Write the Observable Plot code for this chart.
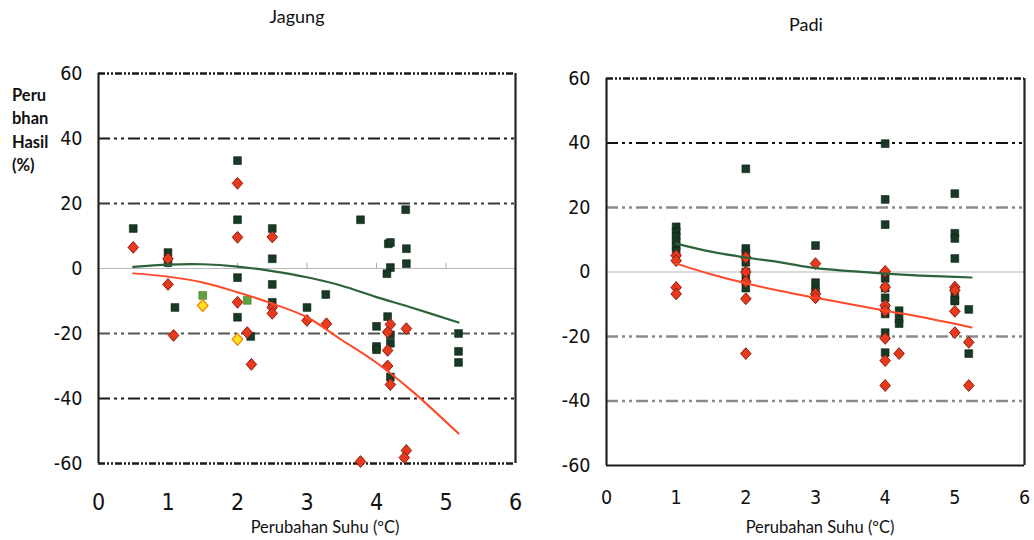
<!DOCTYPE html>
<html>
<head>
<meta charset="utf-8">
<script src="https://cdn.jsdelivr.net/npm/d3@7"></script>
<script src="https://cdn.jsdelivr.net/npm/@observablehq/plot@0.6"></script>
<style>
  html, body { margin: 0; padding: 0; background: #ffffff; }
  #wrap { position: relative; width: 1034px; height: 540px; overflow: hidden; background: #fff; }
  .panel { position: absolute; top: 0; }
  .txt { position: absolute; font-family: Lato, "Open Sans", sans-serif; color: #111; white-space: nowrap; line-height: 1; }
  .title { font-size: 18px; transform: translateX(-50%); }
  .xtitle { font-size: 16.5px; transform: translateX(-50%); }
  .ylab { font-size: 16.5px; font-weight: bold; line-height: 23.3px; left: 12px; top: 84px; }
  .panel svg text { font-family: "Liberation Sans Narrow", "Arial Narrow", "DejaVu Sans Condensed", sans-serif; }
</style>
</head>
<body>
<div id="wrap">
  <div id="left" class="panel" style="left:0px"></div>
  <div id="right" class="panel" style="left:530px"></div>
  <div class="txt title" style="left:297px; top:7px">Jagung</div>
  <div class="txt title" style="left:806px; top:15px">Padi</div>
  <div class="txt ylab">Peru<br>bhan<br>Hasil<br>(%)</div>
  <div class="txt xtitle" style="left:325px; top:519px">Perubahan Suhu (ºC)</div>
  <div class="txt xtitle" style="left:820px; top:519px">Perubahan Suhu (ºC)</div>
</div>
<script>
// ---------- tick values ----------
const xTicks = [0, 1, 2, 3, 4, 5, 6];
const yTicks = [-60, -40, -20, 0, 20, 40, 60];

// ---------- Jagung (maize) ----------
const jagungSquareX = [0.5, 1, 1, 1.1, 2, 2, 2, 2, 2.19, 2.5, 2.5, 2.5, 2.5, 3, 3.27, 3.77, 4, 4, 4, 4.17, 4.2, 4.2, 4.15, 4.16, 4.2, 4.2, 4.2, 4.42, 4.43, 4.43, 5.18, 5.18, 5.18];
const jagungSquareY = [12.3, 4.9, 1.8, -12, 33.2, 15, -2.8, -15, -20.9, 12.3, 3, -4.9, -10.4, -12, -8, 15, -17.8, -24, -25, 7.6, 8, 0.3, -1.6, -14.8, -20.4, -23, -33.4, 18.1, 6.1, 1.5, -20, -25.5, -28.9];
const jagungDiamondX = [0.5, 1, 1, 1.08, 2, 2, 2, 2.14, 2.2, 2.5, 2.5, 2.5, 3, 3.28, 3.77, 4.2, 4.16, 4.16, 4.16, 4.2, 4.43, 4.43, 4.4];
const jagungDiamondY = [6.5, 3, -4.9, -20.6, 26.2, 9.6, -10.4, -19.7, -29.5, 9.7, -12, -13.8, -16, -17, -59.4, -17.2, -19.6, -25.2, -30, -35.7, -18.5, -56, -58.2];
const jagungLightX = [1.5, 2.14];
const jagungLightY = [-8.3, -9.8];
const jagungYellowX = [1.5, 2];
const jagungYellowY = [-11.4, -21.8];
const jagungTrendX = [0.5, 1, 1.5, 2, 2.5, 3, 3.5, 4, 4.5, 5.18];
const jagungGreenTrendY = [0.5, 1.2, 1.3, 0.6, -0.8, -2.7, -5.3, -8.8, -12, -16.6];
const jagungRedTrendY = [-1.5, -2.5, -4.3, -7.3, -10.8, -15, -22, -29, -37.5, -50.8];

// ---------- Padi (rice) ----------
const padiSquareX = [1, 1, 1, 1, 1, 1, 2, 2, 2, 2, 2, 2, 2, 3, 3, 3, 4, 4, 4, 4, 4, 4, 4, 4, 4, 4, 4.2, 4.2, 4.2, 5, 5, 5, 5, 5, 5, 5, 5.2, 5.2];
const padiSquareY = [14, 12.5, 11, 9.5, 8, 6.5, 32, 7.3, 5.8, 3, 0, -2.5, -5, 8.2, -3.3, -5.7, 39.8, 22.5, 14.7, -2, -5, -8, -11, -13, -18.8, -25, -12, -14.5, -16, 24.3, 12, 10.4, 4.2, -7, -9, -8.8, -11.6, -25.3];
const padiDiamondX = [1, 1, 1, 1, 2, 2, 2, 2, 2, 3, 3, 3, 4, 4, 4, 4, 4, 4, 4, 4.2, 5, 5, 5, 5, 5.2, 5.2];
const padiDiamondY = [5.1, 3.5, -4.8, -6.8, 4.5, 0, -3, -8.3, -25.3, 2.6, -6.8, -8, 0.2, -4.7, -10.4, -12, -20.6, -27.5, -35.2, -25.3, -4.7, -5.7, -12.2, -18.8, -21.8, -35.2];
const padiTrendX = [1, 1.5, 2, 2.5, 3, 3.5, 4, 4.5, 5.24];
const padiGreenTrendY = [8.8, 6.3, 4.5, 3, 1.2, 0.3, -0.5, -1.1, -1.7];
const padiRedTrendY = [2.6, -0.7, -3.5, -5.9, -8, -10, -12, -13.9, -17.2];

// ---------- helpers ----------
const zip = (xs, ys) => xs.map((x, i) => ({x, y: ys[i]}));
const diamond = {
  draw(ctx, size) {
    const h = Math.sqrt(size / 2);
    ctx.moveTo(0, -h * 1.12);
    ctx.lineTo(h, 0);
    ctx.lineTo(0, h * 1.12);
    ctx.lineTo(-h, 0);
    ctx.closePath();
  }
};
const dashA = "12,4,3,4,3,4";
const dashBorder = "7,2,2,2,2,2";

function panel(o) {
  const marks = [];
  o.gridLines.forEach(g => {
    marks.push(Plot.ruleY(g.values, {y: d => d, stroke: g.stroke, strokeWidth: g.width, strokeDasharray: g.dash}));
  });
  marks.push(Plot.ruleY([0], {y: d => d, stroke: "#b8b8b8", strokeWidth: 1.2}));
  if (o.zeroTicks) marks.push(Plot.ruleX(o.zeroTicks, {x: d => d, y1: 0, y2: 1.6, stroke: "#aaa", strokeWidth: 1}));
  marks.push(Plot.ruleX([0], {x: d => d, stroke: "#222", strokeWidth: 2.2}));
  marks.push(Plot.ruleX([6], {x: d => d, stroke: "#222", strokeWidth: 2.2}));
  marks.push(Plot.dot(o.squares, {x: "x", y: "y", symbol: "square", r: 4.4, fill: "#173a24", stroke: "#0d2215", strokeWidth: 0.6}));
  if (o.light) marks.push(Plot.dot(o.light, {x: "x", y: "y", symbol: "square", r: 4.4, fill: "#5da23c", stroke: "#3d7a25", strokeWidth: 0.6}));
  marks.push(Plot.dot(o.diamonds, {x: "x", y: "y", symbol: diamond, r: 4.2, fill: "#e8391e", stroke: "#8a1c0e", strokeWidth: 1}));
  if (o.yellow) marks.push(Plot.dot(o.yellow, {x: "x", y: "y", symbol: diamond, r: 4.2, fill: "#ffe21a", stroke: "#f08a12", strokeWidth: 1.4}));
  marks.push(Plot.line(o.green, {x: "x", y: "y", stroke: "#2c6339", strokeWidth: 2.2, curve: "catmull-rom"}));
  marks.push(Plot.line(o.red, {x: "x", y: "y", stroke: "#ff4a2a", strokeWidth: 2, curve: "catmull-rom"}));
  marks.push(Plot.axisY({ticks: yTicks, tickSize: 0, tickPadding: 16, fontSize: o.yFont, fill: "#111", stroke: "#111", strokeWidth: 0.35, label: null, tickFormat: d => String(d)}));
  marks.push(Plot.axisX({ticks: xTicks, tickSize: 0, tickPadding: o.xPad, fontSize: o.xFont, fill: "#111", stroke: "#111", strokeWidth: 0.35, label: null, tickFormat: d => String(d)}));
  return Plot.plot({
    width: o.width,
    height: 540,
    marginLeft: o.mL, marginRight: o.mR, marginTop: o.mT, marginBottom: o.mB,
    x: {domain: [0, 6]},
    y: {domain: [-60, 60]},
    style: {background: "transparent", overflow: "visible", fontFamily: '"Liberation Sans Narrow", "Arial Narrow", sans-serif'},
    marks
  });
}

const leftPlot = panel({
  width: 530, mL: 98, mR: 15, mT: 73, mB: 77,
  xFont: 23, yFont: 19.5, xPad: 30,
  gridLines: [
    {values: [60, -60], stroke: "#1a1a1a", width: 2.6, dash: dashBorder},
    {values: [40, -40], stroke: "#1a1a1a", width: 2, dash: dashA},
    {values: [20], stroke: "#3a3a3a", width: 2, dash: dashA},
    {values: [-20], stroke: "#555", width: 2, dash: dashA}
  ],
  zeroTicks: [1, 2, 3, 4, 5],
  squares: zip(jagungSquareX, jagungSquareY),
  diamonds: zip(jagungDiamondX, jagungDiamondY),
  light: zip(jagungLightX, jagungLightY),
  yellow: zip(jagungYellowX, jagungYellowY),
  green: zip(jagungTrendX, jagungGreenTrendY),
  red: zip(jagungTrendX, jagungRedTrendY)
});
document.getElementById("left").appendChild(leftPlot);

const rightPlot = panel({
  width: 504, mL: 76, mR: 10, mT: 78, mB: 75,
  xFont: 19.5, yFont: 19.5, xPad: 25,
  gridLines: [
    {values: [60], stroke: "#1a1a1a", width: 2.6, dash: dashBorder},
    {values: [-60], stroke: "#1a1a1a", width: 2.2, dash: null},
    {values: [40], stroke: "#111", width: 2, dash: dashA},
    {values: [20, -20, -40], stroke: "#8a8a8a", width: 2.4, dash: dashA}
  ],
  zeroTicks: null,
  squares: zip(padiSquareX, padiSquareY),
  diamonds: zip(padiDiamondX, padiDiamondY),
  green: zip(padiTrendX, padiGreenTrendY),
  red: zip(padiTrendX, padiRedTrendY)
});
document.getElementById("right").appendChild(rightPlot);
</script>
</body>
</html>
